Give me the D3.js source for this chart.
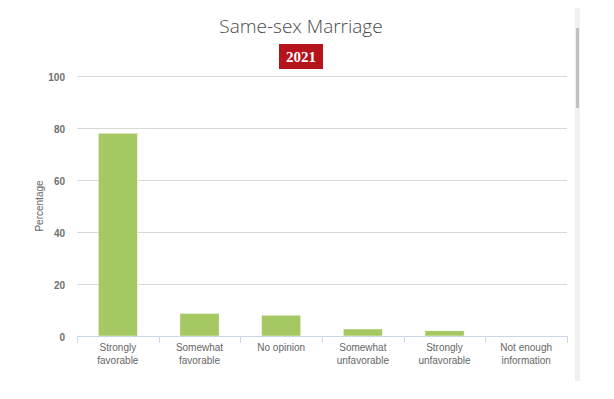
<!DOCTYPE html>
<html>
<head>
<meta charset="utf-8">
<script src="https://cdn.jsdelivr.net/npm/d3@7"></script>
<style>
  body { margin: 0; background: #fff; overflow: hidden; }
  #chart { width: 614px; height: 399px; position: relative; }
  .axis-label { font-family: "Liberation Sans", Arial, sans-serif; font-size: 10px; fill: #666; }
</style>
</head>
<body>
<div id="chart"></div>
<script>
// data
const categories = [
    ["Strongly", "favorable"],
    ["Somewhat", "favorable"],
    ["No opinion"],
    ["Somewhat", "unfavorable"],
    ["Strongly", "unfavorable"],
    ["Not enough", "information"]
];
const values = [78, 8.7, 8, 2.7, 2, 0];
const yTicks = [0, 20, 40, 60, 80, 100];
const chartTitle = "Same-sex Marriage";
const yearLabel = "2021";
const yTitle = "Percentage";

const width = 614, height = 399;
const margin = {top: 76, right: 47, bottom: 63, left: 77};
const innerW = width - margin.left - margin.right;
const innerH = height - margin.top - margin.bottom;

const svg = d3.select("#chart").append("svg")
    .attr("width", width)
    .attr("height", height);

// title
svg.append("text")
    .attr("x", 301)
    .attr("y", 33)
    .attr("text-anchor", "middle")
    .style("font-family", "'Open Sans', sans-serif")
    .style("font-weight", 300)
    .style("font-size", "19px")
    .style("fill", "#4a4a4a")
    .text(chartTitle);

// red year badge
svg.append("rect")
    .attr("x", 279)
    .attr("y", 44)
    .attr("width", 44)
    .attr("height", 25)
    .attr("fill", "#b5141b");
svg.append("text")
    .attr("x", 301)
    .attr("y", 62)
    .attr("text-anchor", "middle")
    .style("font-family", "'Liberation Serif', serif")
    .style("font-weight", "bold")
    .style("font-size", "15px")
    .style("fill", "#fff")
    .text(yearLabel);

// fake scrollbar on the right
svg.append("rect").attr("x", 575).attr("y", 8).attr("width", 5).attr("height", 373).attr("fill", "#f1f1f1");
svg.append("rect").attr("x", 576).attr("y", 28).attr("width", 3).attr("height", 80).attr("fill", "#c1c1c1");

const g = svg.append("g")
    .attr("transform", `translate(${margin.left}, ${margin.top})`);

const x = d3.scaleBand()
    .domain(d3.range(categories.length))
    .range([0, innerW])
    .padding(0);

const y = d3.scaleLinear()
    .domain([0, 100])
    .range([innerH, 0]);

// gridlines
g.append("g")
    .selectAll("line")
    .data(yTicks.filter(d => d > 0))
    .enter().append("line")
    .attr("x1", 0)
    .attr("x2", innerW)
    .attr("y1", d => Math.round(y(d)) + 0.5)
    .attr("y2", d => Math.round(y(d)) + 0.5)
    .attr("stroke", "#d8d8d8")
    .attr("stroke-width", 1);

// y axis labels
let yAxis = d3.axisLeft(y).tickValues(yTicks).tickSize(0).tickPadding(12);
let yG = g.append("g").call(yAxis);
yG.select(".domain").remove();
yG.selectAll("text")
    .attr("class", "axis-label")
    .attr("dy", "0.4em")
    .style("font-weight", "bold")
    .style("fill", "#707070");

// y title
g.append("text")
    .attr("class", "axis-label")
    .attr("transform", `translate(${-34}, ${innerH / 2}) rotate(-90)`)
    .attr("text-anchor", "middle")
    .style("font-size", "10px")
    .text(yTitle);

// bars
const barW = x.bandwidth() * 0.48;
g.selectAll("rect.bar")
    .data(values)
    .enter().append("rect")
    .attr("class", "bar")
    .attr("x", (d, i) => x(i) + (x.bandwidth() - barW) / 2)
    .attr("width", barW)
    .attr("y", d => y(d))
    .attr("height", d => innerH - y(d))
    .attr("fill", "#a5c863")
    .attr("stroke", "#fff")
    .attr("stroke-width", 0.5);

// x axis line and boundary ticks
g.append("line")
    .attr("x1", 0).attr("x2", innerW)
    .attr("y1", innerH + 0.5).attr("y2", innerH + 0.5)
    .attr("stroke", "#ccd6eb");
const bounds = d3.range(categories.length + 1).map(i => i === categories.length ? innerW : x(i));
g.selectAll("line.xtick")
    .data(bounds)
    .enter().append("line")
    .attr("class", "xtick")
    .attr("x1", d => Math.round(d) + 0.5).attr("x2", d => Math.round(d) + 0.5)
    .attr("y1", innerH).attr("y2", innerH + 7)
    .attr("stroke", "#ccd6eb");

// category labels
const lbl = g.selectAll("text.xlab")
    .data(categories)
    .enter().append("text")
    .attr("class", "axis-label xlab")
    .attr("text-anchor", "middle")
    .attr("transform", (d, i) => `translate(${x(i) + x.bandwidth() / 2}, ${innerH + 15})`);
lbl.selectAll("tspan")
    .data(d => d)
    .enter().append("tspan")
    .attr("x", 0)
    .attr("y", (d, i) => i * 13)
    .text(d => d);
</script>
</body>
</html>
